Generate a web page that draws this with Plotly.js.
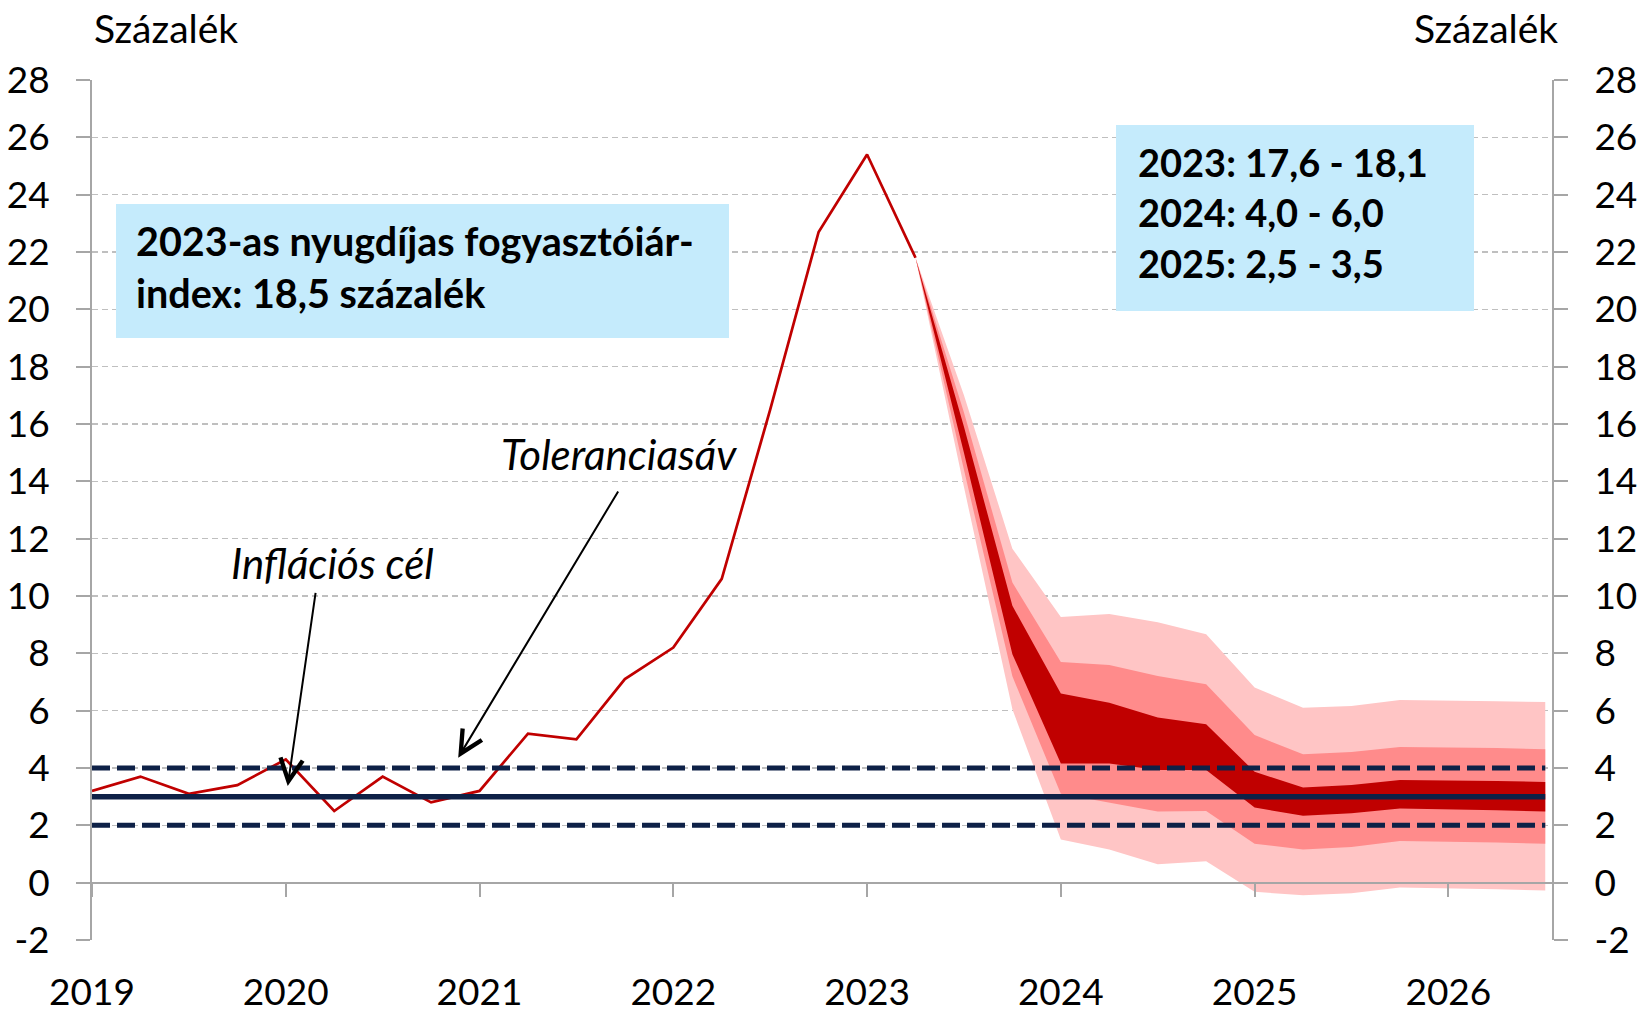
<!DOCTYPE html>
<html><head><meta charset="utf-8">
<script src="https://cdn.plot.ly/plotly-3.0.1.min.js"></script>
<style>html,body{margin:0;padding:0;background:#fff}#chart{width:1641px;height:1013px}</style>
</head><body><div id="chart"></div>
<script>
// ---- data ----
const quarters = [2019, 2019.25, 2019.5, 2019.75, 2020, 2020.25, 2020.5, 2020.75,
                  2021, 2021.25, 2021.5, 2021.75, 2022, 2022.25, 2022.5, 2022.75,
                  2023, 2023.25];
const cpi = [3.2, 3.7, 3.1, 3.4, 4.3, 2.5, 3.7, 2.8, 3.2, 5.2, 5.0, 7.1, 8.2, 10.6, 16.5, 22.7, 25.4, 21.8];

const fanQuarters = [2023.25, 2023.5, 2023.75, 2024, 2024.25, 2024.5, 2024.75,
                     2025, 2025.25, 2025.5, 2025.75, 2026, 2026.25, 2026.5];
const lightHigh = [21.8, 17.0, 11.65, 9.27, 9.37, 9.08, 8.67, 6.81, 6.10, 6.16, 6.37, 6.36, 6.33, 6.30];
const midHigh   = [21.8, 16.4, 10.47, 7.70, 7.59, 7.21, 6.92, 5.15, 4.48, 4.56, 4.73, 4.72, 4.70, 4.65];
const darkHigh  = [21.8, 15.9, 9.66, 6.60, 6.28, 5.76, 5.53, 3.87, 3.32, 3.41, 3.58, 3.57, 3.55, 3.51];
const darkLow   = [21.8, 15.0, 7.97, 4.16, 4.16, 3.93, 3.93, 2.62, 2.33, 2.42, 2.59, 2.56, 2.53, 2.48];
const midLow    = [21.8, 14.4, 7.20, 3.10, 2.79, 2.48, 2.50, 1.36, 1.16, 1.24, 1.45, 1.42, 1.40, 1.36];
const lightLow  = [21.8, 13.8, 6.05, 1.51, 1.16, 0.64, 0.75, -0.32, -0.44, -0.37, -0.17, -0.21, -0.23, -0.27];

const targetX = [2019, 2026.5];
const target  = [3, 3];
const tolLow  = [2, 2];
const tolHigh = [4, 4];

const yearTicks  = [2019, 2020, 2021, 2022, 2023, 2024, 2025, 2026];
const yearLabels = ['2019', '2020', '2021', '2022', '2023', '2024', '2025', '2026'];
const yTicks      = [-2, 0, 2, 4, 6, 8, 10, 12, 14, 16, 18, 20, 22, 24, 26, 28];
const yTickLabels = ['-2', '0', '2', '4', '6', '8', '10', '12', '14', '16', '18', '20', '22', '24', '26', '28'];

const yRange = [-2, 28];
const xRange = [2019, 2026.54];

const unitLabel = 'Százalék';
const box1Lines = ['2023-as nyugdíjas fogyasztóiár-', 'index: 18,5 százalék'];
const box2Lines = ['2023: 17,6 - 18,1', '2024: 4,0 - 6,0', '2025: 2,5 - 3,5'];
const targetLabel = 'Inflációs cél';
const bandLabel = 'Toleranciasáv';

// ---- styles ----
const FONT = 'Lato, "Open Sans", sans-serif';
const GRAY = '#A6A6A6';
const NAVY = '#0E2147';
const RED = '#C00000';
const MID = '#FF8B8B';
const LIGHT = '#FFC5C5';
const BOXBG = '#C5EBFC';

const W = 1641, H = 1013;
const L = 92, R = 1553, T = 80, B = 940;
const pxX = x => (x - L) / (R - L);
const pxY = y => (B - y) / (B - T);

function band(hi, lo, color) {
  return {
    x: fanQuarters.concat(fanQuarters.slice().reverse()),
    y: hi.concat(lo.slice().reverse()),
    type: 'scatter', mode: 'lines', fill: 'toself', fillcolor: color,
    line: {width: 0, color: color}, hoverinfo: 'skip', showlegend: false
  };
}

const traces = [
  band(lightHigh, lightLow, LIGHT),
  band(midHigh, midLow, MID),
  band(darkHigh, darkLow, RED),
  {x: quarters, y: cpi, type: 'scatter', mode: 'lines',
   line: {color: RED, width: 2.7}, showlegend: false},
  {x: targetX, y: tolHigh, xaxis: 'x2', yaxis: 'y2', type: 'scatter', mode: 'lines',
   line: {color: NAVY, width: 5, dash: '18px,7px'}, showlegend: false},
  {x: targetX, y: tolLow, xaxis: 'x2', yaxis: 'y2', type: 'scatter', mode: 'lines',
   line: {color: NAVY, width: 5, dash: '18px,7px'}, showlegend: false},
  {x: targetX, y: target, xaxis: 'x2', yaxis: 'y2', type: 'scatter', mode: 'lines',
   line: {color: NAVY, width: 5.5}, showlegend: false}
];

const yCommon = {
  range: yRange, tickmode: 'array', tickvals: yTicks, ticktext: yTickLabels,
  ticks: 'outside', ticklen: 14, tickwidth: 2, tickcolor: GRAY,
  showline: true, linecolor: GRAY, linewidth: 2, zeroline: false,
  tickfont: {family: FONT, size: 37, color: '#000'}, ticklabelstandoff: 19
};

function txt(x, y, anchor, text, size) {
  return {xref: 'paper', yref: 'paper', x: pxX(x), y: pxY(y), xanchor: anchor, yanchor: 'middle',
          text: text, showarrow: false, font: {family: FONT, size: size, color: '#000'}};
}

const annotations = [
  txt(92, 28, 'left', unitLabel, 39),
  txt(1560, 28, 'right', unitLabel, 39),
  txt(134, 240, 'left', '<b>' + box1Lines[0] + '</b>', 39.5),
  txt(134, 292, 'left', '<b>' + box1Lines[1] + '</b>', 39.5),
  txt(1136, 162, 'left', '<b>' + box2Lines[0] + '</b>', 38),
  txt(1136, 212, 'left', '<b>' + box2Lines[1] + '</b>', 38),
  txt(1136, 263, 'left', '<b>' + box2Lines[2] + '</b>', 38),
  txt(229, 563, 'left', '<i>' + targetLabel + '</i>', 42),
  txt(499, 454, 'left', '<i>' + bandLabel + '</i>', 42),
  {xref: 'x', yref: 'y', x: 2020.01, y: 3.37, axref: 'x', ayref: 'y', ax: 2020.155, ay: 10.16,
   text: '', showarrow: true, arrowhead: 5, arrowsize: 2.2, arrowwidth: 2, arrowcolor: '#000', standoff: 0},
  {xref: 'x', yref: 'y', x: 2020.89, y: 4.36, axref: 'x', ayref: 'y', ax: 2021.72, ay: 13.7,
   text: '', showarrow: true, arrowhead: 5, arrowsize: 2.2, arrowwidth: 2, arrowcolor: '#000', standoff: 0}
];

const shapes = [
  {type: 'rect', xref: 'paper', yref: 'paper', x0: pxX(116), x1: pxX(729), y0: pxY(204), y1: pxY(338),
   fillcolor: BOXBG, line: {width: 0}, layer: 'above'},
  {type: 'rect', xref: 'paper', yref: 'paper', x0: pxX(1116), x1: pxX(1474), y0: pxY(125), y1: pxY(311),
   fillcolor: BOXBG, line: {width: 0}, layer: 'above'}
];

const layout = {
  width: W, height: H,
  margin: {l: L, r: W - R, t: T, b: H - B},
  paper_bgcolor: '#fff', plot_bgcolor: '#fff',
  showlegend: false,
  xaxis: {range: xRange, tickvals: yearTicks, ticktext: yearLabels, ticks: '',
          showline: false, showgrid: false, zeroline: false,
          tickfont: {family: FONT, size: 37, color: '#000'}, ticklabelstandoff: 27},
  xaxis2: {range: xRange, overlaying: 'x', anchor: 'free',
           position: (0 - yRange[0]) / (yRange[1] - yRange[0]),
           tickvals: yearTicks, showticklabels: false, ticks: 'outside', ticklen: 13,
           tickwidth: 2, tickcolor: GRAY, showline: true, linecolor: GRAY, linewidth: 2,
           showgrid: false, zeroline: false},
  yaxis: Object.assign({}, yCommon, {showgrid: true, gridcolor: '#BFBFBF', gridwidth: 1.5, griddash: '6px,4px'}),
  yaxis2: Object.assign({}, yCommon, {overlaying: 'y', side: 'right', anchor: 'free', position: 1, showgrid: false}),
  annotations: annotations,
  shapes: shapes
};

Plotly.newPlot('chart', traces, layout, {staticPlot: true, displayModeBar: false});
</script>
</body></html>
